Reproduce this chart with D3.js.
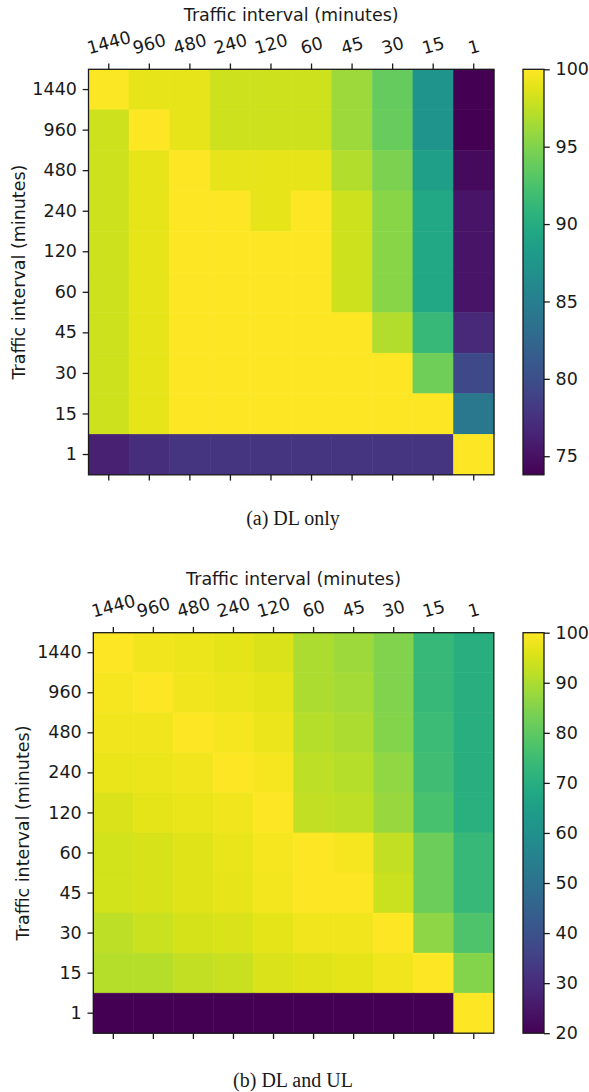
<!DOCTYPE html>
<html>
<head>
<meta charset="utf-8">
<script src="https://cdn.jsdelivr.net/npm/d3@7"></script>
<style>
  body { margin: 0; background: #fff; }
  text { font-family: "DejaVu Sans", sans-serif; fill: #1a1a1a; }
  .caption { font-family: "Liberation Serif", "Times New Roman", serif; }
</style>
</head>
<body>
<svg width="589" height="1092"></svg>
<script>
// traffic intervals, used for both the rows and the columns
const intervals = ["1440", "960", "480", "240", "120", "60", "45", "30", "15", "1"];

// (a) DL only, one array per row (y interval), columns follow intervals
const dlOnly = [
  [99.8, 99.0, 99.0, 98.0, 98.0, 98.0, 96.2, 93.8, 87.4, 73.8],
  [98.0, 100, 99.0, 98.0, 98.0, 98.0, 96.2, 93.9, 87.4, 73.8],
  [98.0, 99.0, 100, 99.0, 99.0, 99.0, 97.0, 94.8, 88.5, 74.5],
  [98.0, 99.0, 100, 100, 99.0, 100, 98.0, 95.3, 89.5, 75.2],
  [98.0, 99.0, 100, 100, 100, 100, 98.0, 95.3, 89.5, 75.2],
  [98.0, 99.0, 100, 100, 100, 100, 98.0, 95.3, 89.5, 75.2],
  [98.0, 99.0, 100, 100, 100, 100, 100, 97.0, 91.4, 76.7],
  [98.0, 99.0, 100, 100, 100, 100, 100, 100, 94.2, 79.6],
  [98.0, 99.0, 100, 100, 100, 100, 100, 100, 100, 84.3],
  [76.2, 77.2, 77.8, 77.8, 77.8, 77.8, 77.8, 77.8, 77.8, 100]
];

// (b) DL and UL
const dlUl = [
  [100, 98.4, 97.6, 96.8, 95.6, 90.0, 88.4, 84.8, 73.6, 70.4],
  [98.8, 100, 98.4, 97.6, 96.8, 90.0, 89.2, 84.8, 73.6, 70.4],
  [98.2, 98.4, 100, 98.8, 97.6, 91.2, 90.0, 85.2, 74.4, 70.4],
  [97.2, 97.6, 98.4, 100, 98.8, 92.0, 91.2, 86.8, 75.6, 70.6],
  [95.6, 96.6, 97.4, 98.4, 100, 92.8, 92.0, 87.6, 76.6, 70.8],
  [94.4, 95.2, 96.0, 97.4, 98.8, 100, 98.8, 92.8, 82.0, 73.6],
  [94.4, 95.2, 96.2, 97.0, 98.6, 100, 100, 93.6, 82.0, 73.6],
  [92.0, 93.6, 94.8, 95.6, 96.8, 98.4, 98.4, 100, 86.4, 77.6],
  [91.2, 91.2, 92.6, 93.4, 95.4, 96.2, 96.8, 98.2, 100, 85.0],
  [20.0, 20.0, 20.0, 20.0, 20.0, 20.0, 20.0, 20.0, 20.0, 100]
];

const ticksA = [75, 80, 85, 90, 95, 100];
const ticksB = [20, 30, 40, 50, 60, 70, 80, 90, 100];

const svg = d3.select("svg");
const fontSize = 17.5;
const tickLen = 5.8;
const angle = 15;

function drawPanel(opts) {
  const { data, left, top, size, cbTicks, caption, captionY, id } = opts;
  const g = svg.append("g");

  const x = d3.scaleBand().domain(intervals).range([left, left + size]);
  const y = d3.scaleBand().domain(intervals).range([top, top + size]);
  const ext = d3.extent(data.flat());
  const color = d3.scaleSequential(d3.interpolateViridis).domain(ext);

  const cells = [];
  data.forEach((row, i) => row.forEach((v, j) => {
    cells.push({ row: intervals[i], col: intervals[j], v: v });
  }));

  g.selectAll("rect.cell")
    .data(cells)
    .join("rect")
    .attr("class", "cell")
    .attr("x", d => x(d.col))
    .attr("y", d => y(d.row))
    .attr("width", x.bandwidth())
    .attr("height", y.bandwidth())
    .attr("fill", d => color(d.v))
    .attr("stroke", d => color(d.v))
    .attr("stroke-width", 0.5);

  g.append("rect")
    .attr("x", left).attr("y", top)
    .attr("width", size).attr("height", size)
    .attr("fill", "none").attr("stroke", "#1a1a1a").attr("stroke-width", 1.3);

  // top axis with rotated labels
  const xTop = g.append("g")
    .attr("transform", "translate(0," + top + ")")
    .call(d3.axisTop(x).tickSize(tickLen).tickSizeOuter(0));
  xTop.select(".domain").remove();
  xTop.selectAll("line").attr("stroke", "#1a1a1a").attr("stroke-width", 1.3);
  const rad = angle * Math.PI / 180;
  xTop.selectAll("text")
    .attr("font-size", fontSize)
    .attr("font-family", null)
    .attr("text-anchor", "middle")
    .attr("y", null)
    .attr("dy", "0.36em")
    .attr("transform", function () {
      const w = this.getComputedTextLength();
      const h = w * Math.sin(rad) + fontSize * 0.73 * Math.cos(rad);
      const cy = -(tickLen + 5.8 + 3.5 + h / 2);
      return "translate(0," + cy + ") rotate(" + (-angle) + ")";
    });

  // bottom ticks, no labels
  const xBot = g.append("g")
    .attr("transform", "translate(0," + (top + size) + ")")
    .call(d3.axisBottom(x).tickSize(tickLen).tickSizeOuter(0).tickFormat(""));
  xBot.select(".domain").remove();
  xBot.selectAll("line").attr("stroke", "#1a1a1a").attr("stroke-width", 1.3);

  const yAx = g.append("g")
    .attr("transform", "translate(" + left + ",0)")
    .call(d3.axisLeft(y).tickSize(tickLen).tickPadding(5.8).tickSizeOuter(0));
  yAx.select(".domain").remove();
  yAx.selectAll("line").attr("stroke", "#1a1a1a").attr("stroke-width", 1.3);
  yAx.selectAll("text").attr("font-size", fontSize).attr("font-family", null);

  g.append("text")
    .attr("x", left + size / 2)
    .attr("y", top - 48)
    .attr("text-anchor", "middle")
    .attr("font-size", fontSize)
    .text("Traffic interval (minutes)");

  g.append("text")
    .attr("transform", "translate(" + (left - 64) + "," + (top + size / 2) + ") rotate(-90)")
    .attr("text-anchor", "middle")
    .attr("font-size", fontSize)
    .text("Traffic interval (minutes)");

  // colorbar
  const cbX = 523, cbW = 21;
  const grad = svg.append("defs").append("linearGradient")
    .attr("id", id)
    .attr("x1", 0).attr("y1", 1).attr("x2", 0).attr("y2", 0);
  d3.range(0, 1.0001, 0.05).forEach(t => {
    grad.append("stop")
      .attr("offset", t)
      .attr("stop-color", d3.interpolateViridis(t));
  });
  g.append("rect")
    .attr("x", cbX).attr("y", top)
    .attr("width", cbW).attr("height", size)
    .attr("fill", "url(#" + id + ")")
    .attr("stroke", "#1a1a1a").attr("stroke-width", 1.3);

  const cbScale = d3.scaleLinear().domain(ext).range([top + size, top]);
  const cbAx = g.append("g")
    .attr("transform", "translate(" + (cbX + cbW) + ",0)")
    .call(d3.axisRight(cbScale).tickValues(cbTicks).tickSize(tickLen).tickPadding(5.8).tickSizeOuter(0));
  cbAx.select(".domain").remove();
  cbAx.selectAll("line").attr("stroke", "#1a1a1a").attr("stroke-width", 1.3);
  cbAx.selectAll("text").attr("font-size", fontSize).attr("font-family", null);

  svg.append("text")
    .attr("class", "caption")
    .attr("x", 293)
    .attr("y", captionY)
    .attr("text-anchor", "middle")
    .attr("font-size", 20)
    .text(caption);
}

drawPanel({ data: dlOnly, left: 88.5, top: 69.3, size: 405.5, cbTicks: ticksA,
  caption: "(a) DL only", captionY: 525, id: "cbA" });
drawPanel({ data: dlUl, left: 93.3, top: 632.7, size: 400.5, cbTicks: ticksB,
  caption: "(b) DL and UL", captionY: 1087, id: "cbB" });
</script>
</body>
</html>
